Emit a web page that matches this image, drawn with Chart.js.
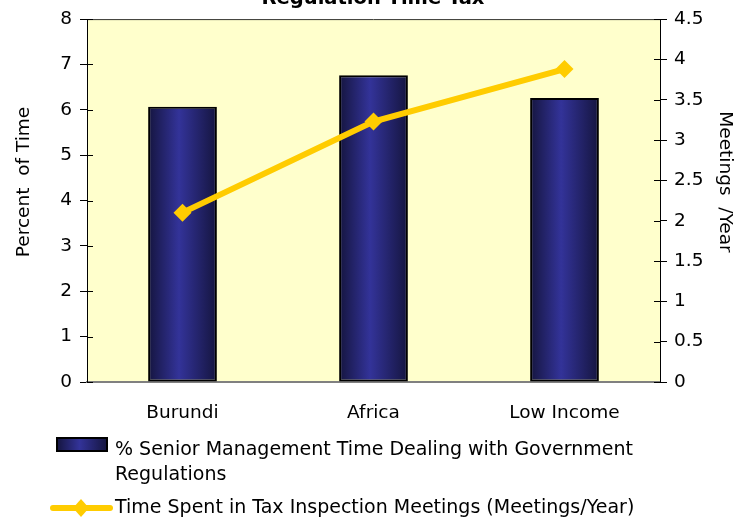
<!DOCTYPE html>
<html>
<head>
<meta charset="utf-8">
<script src="https://cdn.jsdelivr.net/npm/chart.js@4.4.1/dist/chart.umd.min.js"></script>
<style>
    html, body { margin: 0; padding: 0; background: #ffffff; }
    #wrap { width: 746px; height: 521px; }
</style>
</head>
<body>
<div id="wrap"><canvas id="regChart" width="746" height="521"></canvas></div>
<script>
const categories = ["Burundi", "Africa", "Low Income"];
const seniorTime = [6.07, 6.76, 6.26];
const meetings = [2.1, 3.23, 3.88];
const leftTicks = [0, 1, 2, 3, 4, 5, 6, 7, 8];
const rightTicks = [0, 0.5, 1, 1.5, 2, 2.5, 3, 3.5, 4, 4.5];

const titleText = "Regulation Time Tax";
const leftTitle = "Percent  of Time";
const rightTitle = "Meetings  /Year";
const barLabel = ["% Senior Management Time Dealing with Government", "Regulations"];
const lineLabel = "Time Spent in Tax Inspection Meetings (Meetings/Year)";

const FONT = "'DejaVu Sans', sans-serif";
const BAR_PCT = 0.36;

function barGradient(ctx, x0, x1) {
    const g = ctx.createLinearGradient(x0, 0, x1, 0);
    g.addColorStop(0, "#15153f");
    g.addColorStop(0.45, "#333399");
    g.addColorStop(1, "#15153f");
    return g;
}

const decorPlugin = {
    id: "decor",
    beforeDraw(chart) {
        const { ctx, chartArea: a } = chart;
        ctx.save();
        ctx.fillStyle = "#ffffcc";
        ctx.fillRect(a.left, a.top, a.right - a.left, a.bottom - a.top);
        ctx.restore();
    },
    beforeDatasetsDraw(chart) {
        const { ctx, chartArea: a } = chart;
        ctx.save();
        ctx.strokeStyle = "#333333";
        ctx.lineWidth = 1;
        ctx.beginPath();
        ctx.moveTo(a.left, a.top + 0.5);
        ctx.lineTo(a.right, a.top + 0.5);
        ctx.stroke();
        // inner halves of the crossing tick marks
        ctx.strokeStyle = "#000000";
        ["y", "y1"].forEach(function (id) {
            const s = chart.scales[id];
            const xs = id === "y" ? a.left : a.right;
            const dir = id === "y" ? 1 : -1;
            s.ticks.forEach(function (t) {
                const py = Math.round(s.getPixelForValue(t.value)) + 0.5;
                ctx.beginPath();
                ctx.moveTo(xs, py);
                ctx.lineTo(xs + dir * 6, py);
                ctx.stroke();
            });
        });
        ctx.restore();
    },
    afterDraw(chart) {
        const { ctx } = chart;
        ctx.save();
        ctx.fillStyle = "#000000";
        // title (cut at the top edge)
        ctx.font = "bold 19.5px " + FONT;
        ctx.textAlign = "center";
        ctx.textBaseline = "alphabetic";
        ctx.fillText(titleText, 373, 4);

        // axis titles
        ctx.font = "18.5px " + FONT;
        ctx.textBaseline = "middle";
        ctx.save();
        ctx.translate(24, 182);
        ctx.rotate(-Math.PI / 2);
        ctx.fillText(leftTitle, 0, 0);
        ctx.restore();
        ctx.save();
        ctx.translate(725, 182);
        ctx.rotate(Math.PI / 2);
        ctx.fillText(rightTitle, 0, 0);
        ctx.restore();

        // legend
        ctx.font = "19px " + FONT;
        ctx.textAlign = "left";
        ctx.fillStyle = barGradient(ctx, 57, 107);
        ctx.fillRect(57, 438, 50, 13);
        ctx.strokeStyle = "#000000";
        ctx.lineWidth = 2;
        ctx.strokeRect(57, 438, 50, 13);
        ctx.fillStyle = "#000000";
        ctx.fillText(barLabel[0], 115, 450);
        ctx.fillText(barLabel[1], 115, 475);

        ctx.strokeStyle = "#ffcc00";
        ctx.lineWidth = 6;
        ctx.lineCap = "round";
        ctx.beginPath();
        ctx.moveTo(53, 508);
        ctx.lineTo(110, 508);
        ctx.stroke();
        ctx.fillStyle = "#ffcc00";
        ctx.beginPath();
        ctx.moveTo(81, 499);
        ctx.lineTo(89, 508);
        ctx.lineTo(81, 517);
        ctx.lineTo(73, 508);
        ctx.closePath();
        ctx.fill();
        ctx.fillStyle = "#000000";
        ctx.fillText(lineLabel, 115, 508);
        ctx.restore();
    }
};

new Chart(document.getElementById("regChart").getContext("2d"), {
    type: "bar",
    data: {
        labels: categories,
        datasets: [
            {
                type: "line",
                label: lineLabel,
                data: meetings,
                yAxisID: "y1",
                borderColor: "#ffcc00",
                backgroundColor: "#ffcc00",
                borderWidth: 6,
                pointStyle: "rectRot",
                pointRadius: 9,
                pointHoverRadius: 9,
                pointBorderWidth: 0,
                tension: 0,
                order: 0
            },
            {
                label: barLabel.join(" "),
                data: seniorTime,
                yAxisID: "y",
                backgroundColor: function (c) {
                    const chart = c.chart;
                    if (!chart.chartArea || c.dataIndex === undefined) return "#333399";
                    const xs = chart.scales.x;
                    const cx = xs.getPixelForValue(c.dataIndex);
                    const w = xs.width / categories.length * BAR_PCT;
                    return barGradient(chart.ctx, cx - w / 2, cx + w / 2);
                },
                borderColor: "#000000",
                borderWidth: 2,
                borderSkipped: false,
                barPercentage: BAR_PCT,
                categoryPercentage: 1,
                order: 1
            }
        ]
    },
    options: {
        responsive: false,
        animation: false,
        layout: { padding: { top: 18, left: 0, right: 0, bottom: 0 } },
        plugins: {
            legend: { display: false },
            title: { display: false },
            tooltip: { enabled: false }
        },
        scales: {
            x: {
                afterFit: function (s) { s.height = 139; },
                grid: { display: false, drawTicks: false },
                border: { display: true, color: "#808080", width: 2 },
                ticks: { color: "#000000", padding: 20, font: { family: FONT, size: 18.5 } }
            },
            y: {
                position: "left",
                min: 0,
                max: 8,
                afterFit: function (s) { s.width = 87; },
                afterBuildTicks: function (s) { s.ticks = leftTicks.map(function (v) { return { value: v }; }); },
                grid: { drawOnChartArea: false, color: "#000000", tickLength: 7 },
                border: { display: true, color: "#000000", width: 1 },
                ticks: { color: "#000000", padding: 8, font: { family: FONT, size: 18.5 } }
            },
            y1: {
                position: "right",
                min: 0,
                max: 4.5,
                afterFit: function (s) { s.width = 86; },
                afterBuildTicks: function (s) { s.ticks = rightTicks.map(function (v) { return { value: v }; }); },
                grid: { drawOnChartArea: false, color: "#000000", tickLength: 7 },
                border: { display: true, color: "#000000", width: 1 },
                ticks: {
                    color: "#000000",
                    padding: 7,
                    font: { family: FONT, size: 18.5 },
                    callback: function (v) { return String(v); }
                }
            }
        }
    },
    plugins: [decorPlugin]
});
</script>
</body>
</html>
